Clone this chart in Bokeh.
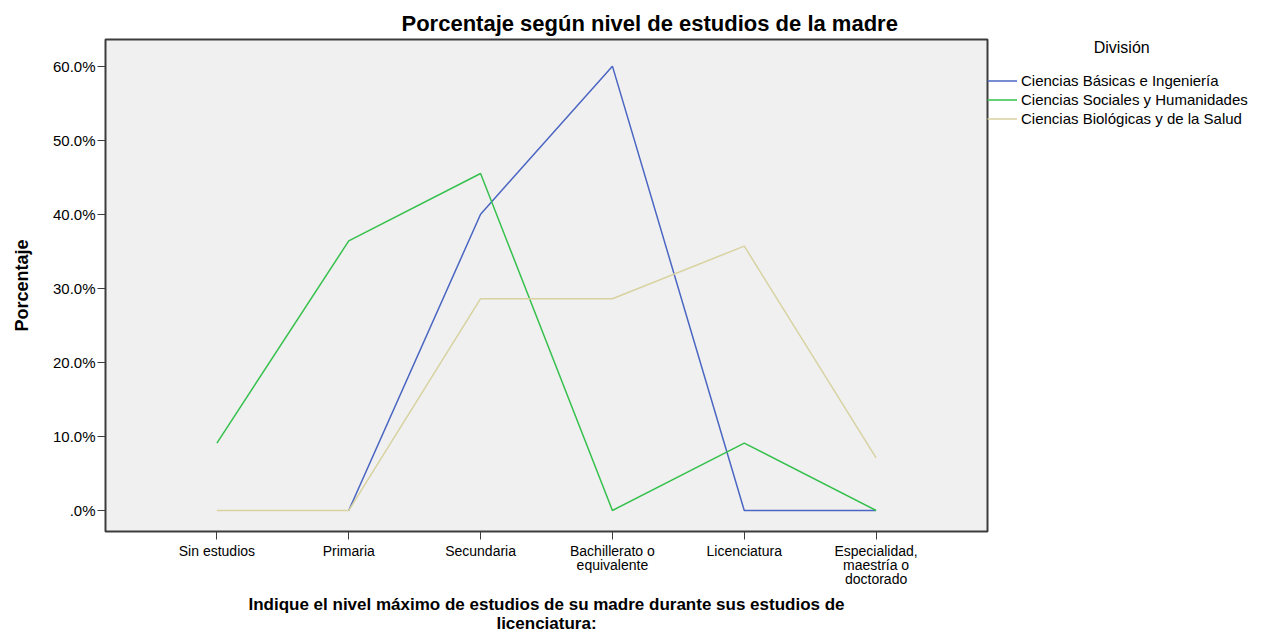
from bokeh.plotting import figure
from bokeh.models import FactorRange, Range1d, FixedTicker, Legend, LegendItem
from bokeh.embed import file_html
from bokeh.resources import INLINE

# ---- data ----
categories = ["Sin estudios", "Primaria", "Secundaria", "Bachillerato o\nequivalente",
              "Licenciatura", "Especialidad,\nmaestría o\ndoctorado"]
series_names = ["Ciencias Básicas e Ingeniería", "Ciencias Sociales y Humanidades",
                "Ciencias Biológicas y de la Salud"]
basicas = [None, 0.0, 40.0, 60.0, 0.0, 0.0]
sociales = [9.1, 36.4, 45.5, 0.0, 9.1, 0.0]
biologicas = [0.0, 0.0, 28.6, 28.6, 35.7, 7.1]
y_ticks = [0, 10, 20, 30, 40, 50, 60]
y_tick_labels = [".0%", "10.0%", "20.0%", "30.0%", "40.0%", "50.0%", "60.0%"]
legend_title = "División"

colors = ["#4a66c2", "#36c04c", "#d8d2a0"]
FONT = "Liberation Sans"

p = figure(frame_width=882, frame_height=492,
           x_range=FactorRange(*categories, range_padding=0.345, range_padding_units="absolute"),
           y_range=Range1d(-2.84, 63.6),
           output_backend="svg", toolbar_location=None,
           min_border_left=105, min_border_right=20, min_border_top=39, min_border_bottom=90,
           title="Porcentaje según nivel de estudios de la madre")

p.title.text_font = FONT
p.title.text_font_size = "22px"
p.title.text_font_style = "bold"
p.title.text_color = "black"
p.title.align = "left"
p.title.offset = 296
p.title.standoff = 7

p.background_fill_color = "#f0f0f0"
p.border_fill_color = "white"
p.outline_line_color = "#3c3c3c"
p.outline_line_width = 2
p.xgrid.grid_line_color = None
p.ygrid.grid_line_color = None

renderers = []
for vals, col in zip([basicas, sociales, biologicas], colors):
    xs = [c for c, v in zip(categories, vals) if v is not None]
    ys = [v for v in vals if v is not None]
    r = p.line(xs, ys, line_color=col, line_width=1.5)
    renderers.append(r)

# axes
for ax in (p.xaxis[0], p.yaxis[0]):
    ax.major_tick_out = 8
    ax.major_tick_in = 0
    ax.minor_tick_line_color = None
    ax.axis_line_color = "#3c3c3c"
    ax.major_tick_line_color = "#3c3c3c"
    ax.major_label_text_font = FONT
    ax.major_label_text_color = "black"
    ax.axis_label_text_font = FONT
    ax.axis_label_text_font_style = "bold"
    ax.axis_label_text_color = "black"

p.yaxis.ticker = FixedTicker(ticks=y_ticks)
p.yaxis.major_label_overrides = dict(zip(y_ticks, y_tick_labels))
p.yaxis.major_label_text_font_size = "15px"
p.yaxis.axis_label = "Porcentaje"
p.yaxis.axis_label_text_font_size = "18px"
p.yaxis.axis_label_standoff = 18
p.yaxis.major_label_standoff = 2

p.xaxis.major_label_text_font_size = "14px"
p.xaxis.major_label_standoff = 3
p.xaxis.major_label_text_line_height = 0.9
p.xaxis.axis_label = "Indique el nivel máximo de estudios de su madre durante sus estudios de\nlicenciatura:"
p.xaxis.axis_label_text_font_size = "17px"
p.xaxis.axis_label_text_line_height = 1.0
p.xaxis.axis_label_standoff = 5

legend = Legend(items=[LegendItem(label=n, renderers=[r]) for n, r in zip(series_names, renderers)],
                location="top_left", padding=8, margin=0, spacing=0,
                title="\u00a0" * 24 + legend_title, title_standoff=14,
                title_text_font=FONT, title_text_font_size="16px", title_text_font_style="normal",
                title_text_color="black",
                label_height=19, glyph_height=19, glyph_width=30, label_standoff=4,
                label_text_font=FONT, label_text_font_size="15px", label_text_color="black",
                border_line_color=None, background_fill_alpha=0)
p.add_layout(legend, "right")

open("out.html", "w").write(file_html(p, INLINE))
